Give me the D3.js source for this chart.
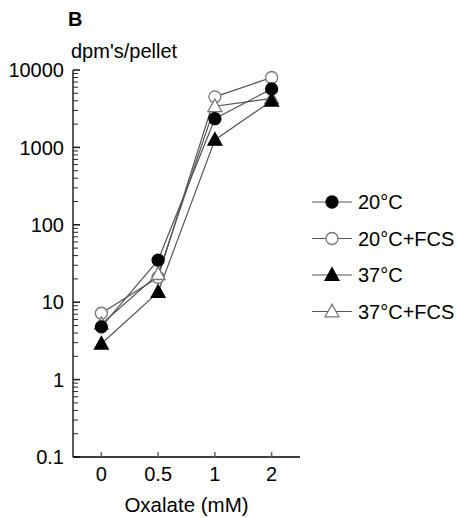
<!DOCTYPE html>
<html lang="en">
<head>
<meta charset="UTF-8">
<title>dpm's/pellet vs Oxalate</title>
<script src="https://d3js.org/d3.v7.min.js"></script>
<style>
  body { margin: 0; background: #fff; }
  svg { display: block; font-family: "Liberation Sans", Arial, sans-serif; }
</style>
</head>
<body>
<svg id="chart" width="457" height="518"></svg>
<script>
// Data
const oxalate = ["0", "0.5", "1", "2"];
const c20 = [4.8, 35, 2350, 5700];
const c20fcs = [7.2, 21, 4500, 8000];
const c37 = [2.9, 13.5, 1250, 4000];
const c37fcs = [5.2, 23, 3400, 4300];
const yTicks = [0.1, 1, 10, 100, 1000, 10000];

const series = [
  { name: "20\u00B0C", values: c20, shape: "circle", filled: true },
  { name: "20\u00B0C+FCS", values: c20fcs, shape: "circle", filled: false },
  { name: "37\u00B0C", values: c37, shape: "triangle", filled: true },
  { name: "37\u00B0C+FCS", values: c37fcs, shape: "triangle", filled: false }
];

const svg = d3.select("#chart");
const plotLeft = 73, plotRight = 300, plotTop = 70, plotBottom = 457;

const x = d3.scalePoint().domain(oxalate).range([plotLeft, plotRight]).padding(0.5);
const y = d3.scaleLog().domain([0.1, 10000]).range([plotBottom, plotTop]);

const lineColor = "#555";
const openStroke = "#777";
const fs = 20;

// y axis with minor ticks pointing inward
const allTicks = [];
for (let e = -1; e < 4; e++) {
  for (let m = 1; m <= 9; m++) allTicks.push(m * Math.pow(10, e));
}
allTicks.push(10000);
const isMajor = d => yTicks.some(t => Math.abs(t - d) / t < 1e-9);

const yAxis = svg.append("g").attr("transform", `translate(${plotLeft},0)`);
yAxis.append("line").attr("y1", plotTop).attr("y2", plotBottom).attr("stroke", "#000").attr("stroke-width", 1.3);
yAxis.selectAll("line.tick").data(allTicks).enter().append("line")
  .attr("class", "tick")
  .attr("x1", 0)
  .attr("x2", d => isMajor(d) ? 7 : 5)
  .attr("y1", d => y(d)).attr("y2", d => y(d))
  .attr("stroke", "#222")
  .attr("stroke-width", d => isMajor(d) ? 1.6 : 1);
yAxis.selectAll("text").data(yTicks).enter().append("text")
  .attr("x", -9).attr("y", d => y(d)).attr("dy", "0.36em")
  .attr("text-anchor", "end").attr("font-size", fs)
  .text(d => String(d));

// x axis
const xAxis = svg.append("g").attr("transform", `translate(0,${plotBottom})`);
xAxis.append("line").attr("x1", plotLeft).attr("x2", plotRight).attr("stroke", "#000").attr("stroke-width", 1.3);
xAxis.selectAll("line.tick").data(oxalate).enter().append("line")
  .attr("class", "tick")
  .attr("x1", d => x(d)).attr("x2", d => x(d))
  .attr("y1", 0).attr("y2", -5)
  .attr("stroke", "#666").attr("stroke-width", 1.5);
xAxis.selectAll("text").data(oxalate).enter().append("text")
  .attr("x", d => x(d)).attr("y", 24)
  .attr("text-anchor", "middle").attr("font-size", fs)
  .text(d => d);

svg.append("text").attr("x", (plotLeft + plotRight) / 2).attr("y", 512)
  .attr("text-anchor", "middle").attr("font-size", 20.5).text("Oxalate (mM)");
svg.append("text").attr("x", 71).attr("y", 58).attr("font-size", fs).text("dpm's/pellet");
svg.append("text").attr("x", 68).attr("y", 26).attr("font-size", 20).attr("font-weight", "bold").text("B");

// markers
function marker(g, s, cx, cy, r) {
  const fill = s.filled ? "#000" : "#fff";
  const stroke = s.filled ? "#000" : openStroke;
  if (s.shape === "circle") {
    g.append("circle").attr("cx", cx).attr("cy", cy).attr("r", r)
      .attr("fill", fill).attr("stroke", stroke).attr("stroke-width", 1.3);
  } else {
    const hw = r * 1.15, h = r * 2.1;
    g.append("path")
      .attr("d", `M${cx},${cy - h * 0.58}L${cx + hw},${cy + h * 0.42}L${cx - hw},${cy + h * 0.42}Z`)
      .attr("fill", fill).attr("stroke", stroke).attr("stroke-width", 1.3);
  }
}

const line = d3.line().x((d, i) => x(oxalate[i])).y(d => y(d));
const plot = svg.append("g");
series.forEach(s => {
  plot.append("path").attr("d", line(s.values)).attr("fill", "none")
    .attr("stroke", lineColor).attr("stroke-width", 1.2);
});
[1, 3, 0, 2].forEach(k => {
  const s = series[k];
  s.values.forEach((v, i) => marker(plot, s, x(oxalate[i]), y(v), 6));
});

// legend
const legend = svg.append("g");
series.forEach((s, i) => {
  const ly = 202 + i * 36.5;
  legend.append("line").attr("x1", 312).attr("x2", 352).attr("y1", ly).attr("y2", ly)
    .attr("stroke", lineColor).attr("stroke-width", 1.2);
  marker(legend, s, 332, ly, 6);
  legend.append("text").attr("x", 358).attr("y", ly).attr("dy", "0.36em")
    .attr("font-size", fs).text(s.name);
});
</script>
</body>
</html>
